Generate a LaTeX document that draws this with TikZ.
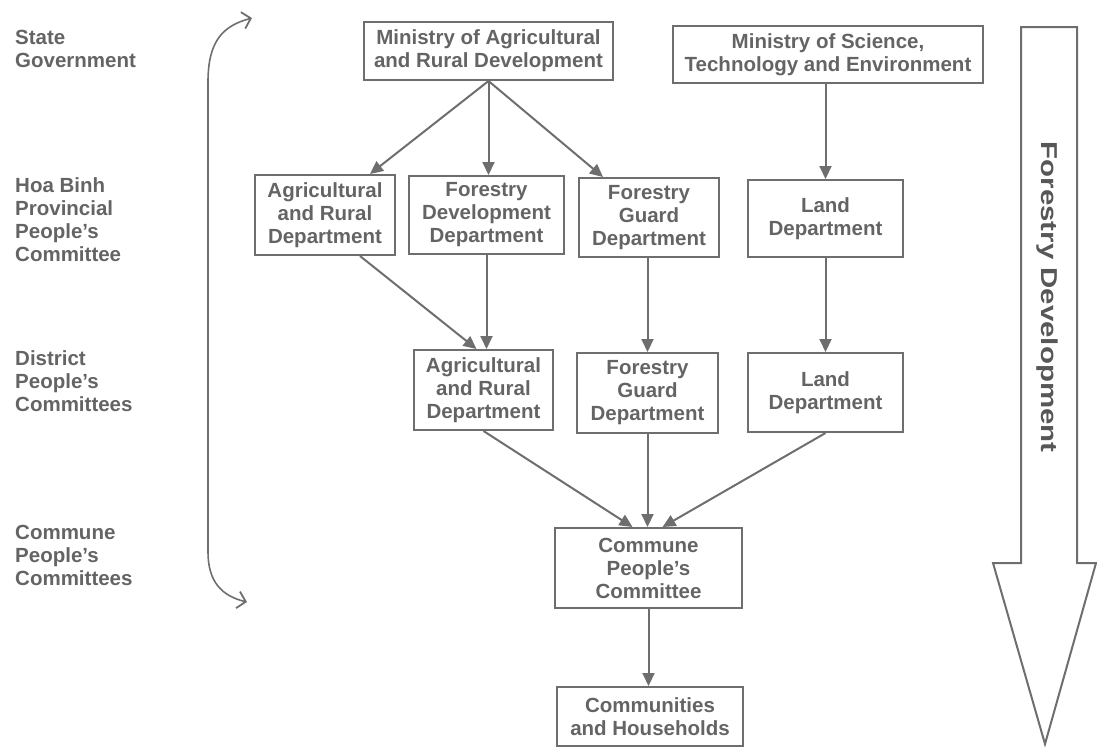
\documentclass[tikz,border=0pt]{standalone}
\usepackage{fontspec}
\setmainfont{Liberation Sans}
\usetikzlibrary{arrows.meta}
\definecolor{ink}{HTML}{646464}
\definecolor{edge}{HTML}{6E6E6E}
\definecolor{darkink}{HTML}{575757}
\begin{document}
\begin{tikzpicture}[x=1pt,y=-1pt,
  txt/.style={font=\bfseries\fontsize{20.5}{23}\selectfont, text=ink},
  lbl/.style={txt, anchor=north west, inner sep=0pt, align=left},
  box/.style={txt, draw=edge, line width=2pt, inner sep=2pt, align=center},
  arr/.style={draw=edge, line width=2pt, -{Triangle[length=13pt,width=12pt]}},
  bracket/.style={draw=edge, line width=1.6pt, line cap=round,
    {Straight Barb[length=8pt,width=17pt,line width=1.8pt]}-{Straight Barb[length=8pt,width=17pt,line width=1.8pt]}},
  bigarrow/.style={draw=edge, line width=2pt, line join=miter}
]
\useasboundingbox (0,0) rectangle (1097,747);

% level labels
\node[lbl] (lstate) at (15,30) {State\\Government};
\node[lbl] (lprov) at (15,177) {Hoa Binh\\Provincial\\People's\\Committee};
\node[lbl] (ldist) at (15,350) {District\\People's\\Committees};
\node[lbl] (lcomm) at (15,525) {Commune\\People's\\Committees};

% level bracket
\coordinate (brTop) at (252,18);
\coordinate (brBot) at (247,602);
\draw[bracket] (brTop) .. controls (222,26) and (208,42) .. (208,82)
  -- (208,552) .. controls (208,582) and (222,596) .. (brBot);

% state level
\node[box, minimum width=249pt, minimum height=58pt] (minA) at (488.5,51)
  {Ministry of Agricultural\\and Rural Development};
\node[box, minimum width=310pt, minimum height=57pt] (minS) at (828,54.5)
  {Ministry of Science,\\Technology and Environment};

% provincial level
\node[box, minimum width=140pt, minimum height=80pt] (pAgri) at (325,215)
  {Agricultural\\and Rural\\Department};
\node[box, minimum width=155pt, minimum height=78pt] (pFD) at (486.5,215)
  {Forestry\\Development\\Department};
\node[box, minimum width=140pt, minimum height=79pt] (pFG) at (649,217.5)
  {Forestry\\Guard\\Department};
\node[box, minimum width=155pt, minimum height=77pt] (pLand) at (825.5,218.5)
  {Land\\Department};

% district level
\node[box, minimum width=139pt, minimum height=80pt] (dAgri) at (483.5,390)
  {Agricultural\\and Rural\\Department};
\node[box, minimum width=141pt, minimum height=80pt] (dFG) at (647.5,393)
  {Forestry\\Guard\\Department};
\node[box, minimum width=155pt, minimum height=79pt] (dLand) at (825.5,392.5)
  {Land\\Department};

% commune level
\node[box, minimum width=187pt, minimum height=80pt] (comm) at (648.5,568)
  {Commune\\People's\\Committee};
\node[box, minimum width=186pt, minimum height=59pt] (hh) at (650,716.5)
  {Communities\\and Households};

% connectors
\draw[arr] (minA.south) -- ([xshift=45pt]pAgri.north);
\draw[arr] (minA.south) -- (minA.south |- pFD.north);
\draw[arr] (minA.south) -- ([xshift=-46pt]pFG.north);
\draw[arr] (pLand.north |- minS.south) -- (pLand.north);
\draw[arr] ([xshift=35pt]pAgri.south) -- ([xshift=-7pt]dAgri.north);
\draw[arr] (pFD.south) -- (pFD.south |- dAgri.north);
\draw[arr] (dFG.north |- pFG.south) -- (dFG.north);
\draw[arr] (pLand.south) -- (dLand.north);
\draw[arr] (dAgri.south) -- ([xshift=-16pt]comm.north);
\draw[arr] (dFG.south) -- (dFG.south |- comm.north);
\draw[arr] (dLand.south) -- ([xshift=14pt]comm.north);
\draw[arr] (comm.south) -- (comm.south |- hh.north);

% downward block arrow
\draw[bigarrow] (1021,27) -- (1077,27) -- (1077,563) -- (1096,563)
  -- (1045,744) -- (993,563) -- (1021,563) -- cycle;
\node[rotate=-90, inner sep=0pt, text=darkink,
  font=\bfseries\fontsize{23}{26}\selectfont] (fdev) at (1047,297)
  {\scalebox{1.28}[1]{Forestry Development}};
\end{tikzpicture}
\end{document}
